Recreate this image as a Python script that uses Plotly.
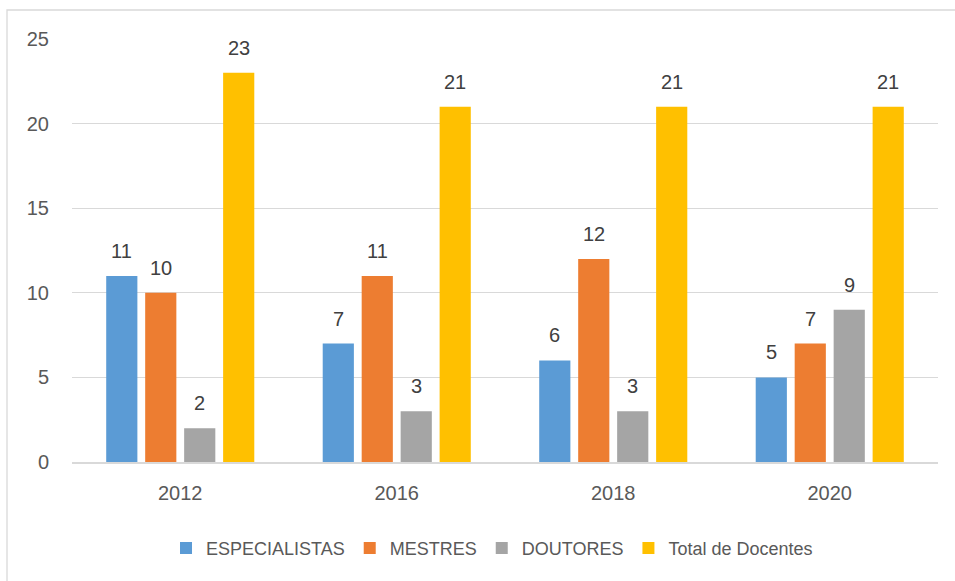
import plotly.graph_objects as go

years = ["2012", "2016", "2018", "2020"]
series_names = ["ESPECIALISTAS", "MESTRES", "DOUTORES", "Total de Docentes"]
especialistas = [11, 7, 6, 5]
mestres = [10, 11, 12, 7]
doutores = [2, 3, 3, 9]
total = [23, 21, 21, 21]
colors = ["#5B9BD5", "#ED7D31", "#A5A5A5", "#FFC000"]
y_ticks = [0, 5, 10, 15, 20, 25]

FONT = "Liberation Sans"
W, H = 955, 581
ML, MR, MT, MB = 72, 17, 39, 119
BARGAP = 0.28
plot_w = W - ML - MR
cat_px = plot_w / len(years)
slot_px = cat_px * (1 - BARGAP) / len(series_names)

fig = go.Figure()
annotations = []
for i, (name, vals, col) in enumerate(zip(series_names, [especialistas, mestres, doutores, total], colors)):
    fig.add_trace(go.Bar(
        x=years, y=vals, name=name, marker=dict(color=col, line=dict(width=0)),
    ))
    for j, v in enumerate(vals):
        annotations.append(dict(
            x=j, y=v, xref="x", yref="y", text=str(v), showarrow=False,
            xshift=(i - 1.5) * slot_px, yshift=12, yanchor="bottom",
            font=dict(family=FONT, size=20, color="#404040"),
        ))

fig.update_layout(
    width=W, height=H,
    margin=dict(l=ML, r=MR, t=MT, b=MB),
    paper_bgcolor="white", plot_bgcolor="white",
    barmode="group", bargap=BARGAP, bargroupgap=0.2,
    font=dict(family=FONT, size=18, color="#595959"),
    showlegend=True,
    legend=dict(orientation="h", x=0.485, xanchor="center", y=-0.16, yanchor="top",
                font=dict(family=FONT, size=18, color="#595959"),
                itemwidth=30, traceorder="normal"),
    xaxis=dict(type="category", range=[-0.5, len(years) - 0.5], autorange=False,
               showgrid=False, showline=True, linecolor="#D9D9D9", linewidth=1.5,
               ticks="", tickfont=dict(size=20, color="#595959"), ticklabelstandoff=12),
    yaxis=dict(range=[0, 25], autorange=False, tickvals=y_ticks, showgrid=True, gridcolor="#D9D9D9",
               gridwidth=1.3, zeroline=False, showline=False, ticks="",
               tickfont=dict(size=20, color="#595959"), ticklabelstandoff=22),
    annotations=annotations,
    shapes=[dict(type="rect", xref="paper", yref="paper",
                 x0=(7 - ML) / plot_w, x1=1.1, y0=-0.4, y1=1 + 29 / (H - MT - MB),
                 line=dict(color="#D9D9D9", width=1.3), fillcolor="rgba(0,0,0,0)", layer="below")],
)

fig.write_html("out.html")
